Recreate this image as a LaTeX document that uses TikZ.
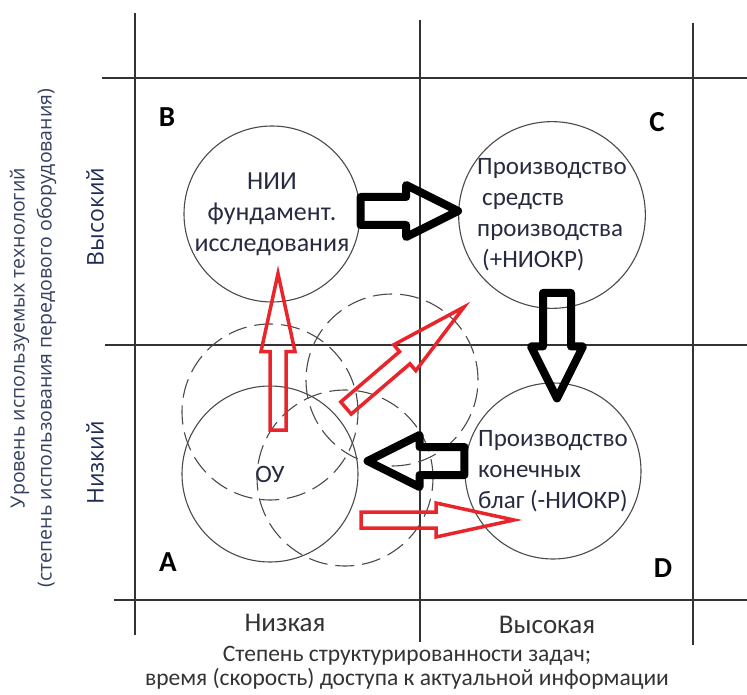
\documentclass[tikz,border=0pt]{standalone}
\usepackage{fontspec}
\setmainfont{Carlito}
\newfontfamily\axisfont{Open Sans}
\usetikzlibrary{calc}
\definecolor{gridc}{HTML}{333333}
\definecolor{circc}{HTML}{4A4A4A}
\definecolor{txtc}{HTML}{262B40}
\definecolor{axisc}{HTML}{34405F}
\definecolor{levc}{HTML}{1F2D55}
\definecolor{redarr}{HTML}{E8252B}
\tikzset{
  bubble/.style={circle,draw=circc,line width=1.1pt,minimum size=176pt,inner sep=0pt,
    text=txtc,align=center,font=\fontsize{25}{31}\selectfont},
  ghost/.style={draw=circc,line width=1.1pt,dash pattern=on 19pt off 8pt},
  corner/.style={font=\fontsize{29}{29}\selectfont\bfseries},
  axislbl/.style={text=axisc,align=center,font=\axisfont\fontsize{19.5}{27}\selectfont},
  levlbl/.style={text=levc,font=\axisfont\fontsize{23}{24}\selectfont},
  blockarr/.style args={#1/#2/#3}{to path={
    let \p1=(\tikztostart), \p2=(\tikztotarget),
        \n1={atan2(\y2-\y1,\x2-\x1)}, \n2={veclen(\x2-\x1,\y2-\y1)} in
    [shift={(\p1)},rotate=\n1]
    (0,-#1) -- ({\n2-#3},-#1) -- ({\n2-#3},-#2) -- (\n2,0)
    -- ({\n2-#3},#2) -- ({\n2-#3},#1) -- (0,#1) -- cycle}},
  blackarr/.style={draw=black,line width=8pt,line join=round,blockarr=14/26/52},
  redarr/.style={draw=redarr,line width=3.5pt,blockarr=8/17/78},
}
\begin{document}
\begin{tikzpicture}[x=1pt,y=-1pt]
  \useasboundingbox (0,0) rectangle (747,695);
  % grid
  \draw[gridc,line width=1.4pt] (135,13) -- (135,635);
  \draw[gridc,line width=1.4pt] (420,20) -- (420,642);
  \draw[gridc,line width=1.4pt] (693,23) -- (693,645);
  \draw[gridc,line width=1.4pt] (102,78) -- (747,78);
  \draw[gridc,line width=1.4pt] (105,345) -- (747,345);
  \draw[gridc,line width=1.4pt] (114,600) -- (747,600);
  % axis labels
  \node[axislbl,rotate=90] (ylab) at (33,338)
    {Уровень используемых технологий\\(степень использования передового оборудования)};
  \node[levlbl,rotate=90] (yhi) at (95,217) {Высокий};
  \node[levlbl,rotate=90] (ylo) at (95,463) {Низкий};
  \node[text=gridc,font=\fontsize{27}{28}\selectfont] (xlo) at (285,623) {Низкая};
  \node[text=gridc,font=\fontsize{27}{28}\selectfont] (xhi) at (547,625) {Высокая};
  \node[text=gridc,align=center,font=\fontsize{23.5}{24}\selectfont] (xlab) at (407,668)
    {Степень структурированности задач;\\время (скорость) доступа к актуальной информации};
  % quadrants
  \node[corner] (qb) at (167,117) {B};
  \node[corner] (qc) at (657,122) {C};
  \node[corner] (qa) at (168,562) {A};
  \node[corner] (qd) at (663,568) {D};
  % dashed circles
  \draw[ghost] (270,412) circle [radius=88pt];
  \draw[ghost] (392,380) circle [radius=86pt];
  \draw[ghost] (345,478) circle [radius=88pt];
  % circles
  \node[bubble,font=\fontsize{26}{31}\selectfont] (nii) at (272,214) {НИИ\\фундамент.\\исследования};
  \node[bubble,align=left] (cprod) at (552,215)
    {Производство\\\hspace{5pt}средств\\производства\\\hspace{5pt}(+НИОКР)};
  \node[bubble,align=left] (dprod) at (553,471) {Производство\\конечных\\благ (-НИОКР)};
  \node[bubble] (oy) at (270,474) {ОУ};
  % arrow ends
  \coordinate (b1s) at ($(nii.east)+(0,-3)$);
  \coordinate (b1e) at ($(cprod.west)+(0,-4)$);
  \coordinate (b2s) at ($(cprod.south)+(5,-16)$);
  \coordinate (b2e) at ($(dprod.north)+(4,16)$);
  \coordinate (b3s) at ($(dprod.west)+(0,-10)$);
  \coordinate (b3e) at ($(oy.east)+(9,-13)$);
  \coordinate (r1s) at ($(oy.center)+(8,-44)$);
  \coordinate (r1e) at ($(nii.south)+(6,-29)$);
  \coordinate (r2s) at (346,408);
  \coordinate (r2e) at (464,307);
  \coordinate (r3s) at (361,520);
  \coordinate (r3e) at ($(dprod.center)+(-39,49)$);
  % arrows
  \draw[blackarr] (b1s) to (b1e);
  \draw[blackarr] (b2s) to (b2e);
  \draw[blackarr] (b3s) to (b3e);
  \draw[redarr] (r1s) to (r1e);
  \draw[redarr] (r2s) to (r2e);
  \draw[redarr] (r3s) to (r3e);
\end{tikzpicture}
\end{document}
